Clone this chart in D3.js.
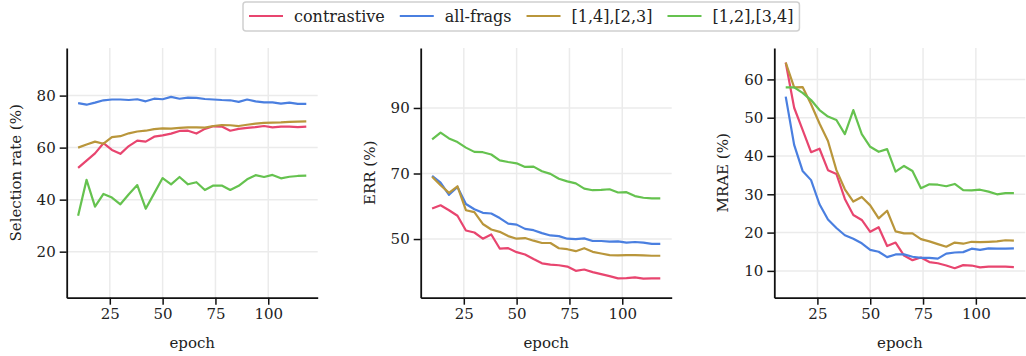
<!DOCTYPE html>
<html>
<head>
<meta charset="utf-8">
<script src="https://cdn.jsdelivr.net/npm/d3@7"></script>
<style>
  body { margin: 0; background: #fff; }
</style>
</head>
<body>
<svg id="chart" width="1026" height="356"></svg>
<script>
// epochs logged every 4 epochs
const epochs = d3.range(10, 119, 4);

const seriesNames = ["contrastive", "all-frags", "[1,4],[2,3]", "[1,2],[3,4]"];
const seriesColors = ["#e8456f", "#4a7fe0", "#b9963b", "#65c24f"];

// Selection rate (%)
const selContrastive = [52.2,55.0,57.8,61.7,59.1,57.6,60.6,62.7,62.3,64.2,64.7,65.4,66.4,66.5,65.4,67.2,68.2,68.1,66.5,67.2,67.6,67.9,68.3,67.8,68.1,68.1,67.9,68.1];
const selAllFrags = [77.1,76.5,77.3,78.2,78.5,78.5,78.3,78.6,77.8,78.8,78.6,79.5,78.8,79.2,79.1,78.7,78.5,78.3,78.2,77.6,78.5,77.8,77.4,77.4,76.9,77.3,76.8,76.8];
const sel1423 = [60.0,61.2,62.3,61.5,64.0,64.4,65.5,66.2,66.5,67.1,67.4,67.3,67.6,67.8,67.8,67.7,68.3,68.7,68.6,68.3,68.8,69.2,69.5,69.6,69.7,69.9,70.0,70.1];
const sel1234 = [33.8,47.6,37.3,42.2,40.8,38.2,42.1,45.6,36.5,42.4,48.3,45.9,48.7,45.9,46.7,43.7,45.4,45.4,43.7,45.3,47.8,49.4,48.7,49.5,48.2,48.8,49.1,49.2];

// ERR (%)
const errContrastive = [59.3,60.3,58.8,57.1,52.6,52.0,50.1,51.4,47.1,47.2,46.0,45.3,43.9,42.6,42.2,42.0,41.6,40.3,40.7,39.9,39.3,38.7,38.0,38.1,38.3,37.9,38.0,38.0];
const errAllFrags = [69.3,67.2,63.5,65.9,60.7,59.1,58.0,57.8,56.4,54.7,54.4,53.1,52.7,51.8,51.1,50.9,50.1,50.0,50.2,49.4,49.4,49.2,49.3,48.9,49.1,48.9,48.5,48.5];
const err1423 = [69.0,66.4,64.1,66.1,58.8,58.2,54.6,52.9,52.2,50.9,50.1,50.3,49.5,48.8,48.8,47.2,46.9,46.3,47.2,46.1,45.6,45.1,45.0,45.1,45.1,45.0,44.9,44.9];
const err1234 = [80.4,82.5,80.7,79.6,77.9,76.6,76.5,75.8,74.0,73.5,73.1,72.0,72.1,70.7,69.9,68.4,67.6,67.0,65.4,64.9,65.0,65.2,64.2,64.3,63.1,62.6,62.4,62.4];

// MRAE (%)
const mraeContrastive = [64.4,52.6,46.8,41.0,41.9,36.3,35.3,28.8,24.6,23.3,20.2,21.4,16.5,17.4,14.0,12.8,13.5,12.3,12.0,11.4,10.7,11.5,11.4,10.9,11.1,11.1,11.1,11.0];
const mraeAllFrags = [55.5,42.9,36.1,33.7,27.4,23.4,21.2,19.3,18.4,17.2,15.5,15.0,13.6,14.3,14.3,13.7,13.4,13.4,13.2,14.5,14.8,14.9,15.8,15.5,15.9,15.8,15.8,15.9];
const mrae1423 = [64.4,57.9,58.0,53.5,48.5,43.9,36.3,31.3,28.1,29.3,27.1,23.7,25.7,20.3,19.8,19.8,18.3,17.7,17.0,16.3,17.4,17.1,17.6,17.5,17.6,17.7,18.0,17.9];
const mrae1234 = [57.9,57.9,56.5,54.6,52.0,50.3,49.4,45.7,52.0,45.7,42.4,41.1,41.8,35.9,37.4,36.1,31.6,32.6,32.5,32.1,32.7,31.1,31.0,31.2,30.7,30.0,30.3,30.3];

const xTicks = [25, 50, 75, 100];

const panels = [
  { label: "Selection rate (%)", left: 66.7, yDomain: [2.3, 98.3], yTicks: [20, 40, 60, 80],
    series: [selContrastive, selAllFrags, sel1423, sel1234] },
  { label: "ERR (%)", left: 420.7, yDomain: [32.1, 108.3], yTicks: [50, 70, 90],
    series: [errContrastive, errAllFrags, err1423, err1234] },
  { label: "MRAE (%)", left: 774.3, yDomain: [3.0, 68.2], yTicks: [10, 20, 30, 40, 50, 60],
    series: [mraeContrastive, mraeAllFrags, mrae1423, mrae1234] }
];

const serif = '"DejaVu Serif"';
const svg = d3.select("#chart");
const plotTop = 48, plotBottom = 297.7, plotW = 251;

panels.forEach(p => {
  const g = svg.append("g").attr("transform", "translate(" + p.left + ",0)");

  const x = d3.scaleLinear().domain([4.6, 123.4]).range([0, plotW]);
  const y = d3.scaleLinear().domain(p.yDomain).range([plotBottom, plotTop]);

  // grid
  g.append("g").selectAll("line").data(xTicks).enter().append("line")
    .attr("x1", d => x(d)).attr("x2", d => x(d))
    .attr("y1", plotTop).attr("y2", plotBottom)
    .attr("stroke", "#ebebeb").attr("stroke-width", 1.5);
  g.append("g").selectAll("line").data(p.yTicks).enter().append("line")
    .attr("x1", 0).attr("x2", plotW)
    .attr("y1", d => y(d)).attr("y2", d => y(d))
    .attr("stroke", "#ebebeb").attr("stroke-width", 1.5);

  // lines
  const line = d3.line().x((d, i) => x(epochs[i])).y(d => y(d));
  p.series.forEach((s, k) => {
    g.append("path")
      .datum(s)
      .attr("d", line)
      .attr("fill", "none")
      .attr("stroke", seriesColors[k])
      .attr("stroke-width", 2.2)
      .attr("stroke-linejoin", "round");
  });

  // axes
  const xAxis = g.append("g")
    .attr("transform", "translate(0," + plotBottom + ")")
    .call(d3.axisBottom(x).tickValues(xTicks).tickSizeOuter(0).tickSizeInner(7).tickPadding(4));
  const yAxis = g.append("g")
    .call(d3.axisLeft(y).tickValues(p.yTicks).tickSizeOuter(0).tickSizeInner(7).tickPadding(4));
  [xAxis, yAxis].forEach(a => {
    a.attr("font-family", null).attr("font-size", null);
    a.select(".domain").attr("stroke", "#111").attr("stroke-width", 1.8);
    a.selectAll(".tick line").attr("stroke", "#111").attr("stroke-width", 1.5);
    a.selectAll(".tick text").style("font-family", serif).style("font-size", "15px").attr("fill", "#222");
  });

  // labels
  g.append("text")
    .attr("x", plotW / 2).attr("y", 348)
    .attr("text-anchor", "middle")
    .attr("fill", "#222")
    .style("font-family", serif)
    .style("font-size", "15px")
    .text("epoch");
  g.append("text")
    .attr("transform", "translate(-46," + ((plotTop + plotBottom) / 2) + ") rotate(-90)")
    .attr("text-anchor", "middle")
    .attr("fill", "#222")
    .style("font-family", serif)
    .style("font-size", "15px")
    .text(p.label);
});

// legend
const legX = 249;
const legend = svg.append("g");
const box = legend.append("rect")
  .attr("y", 2).attr("height", 29).attr("rx", 3)
  .attr("fill", "#fff").attr("stroke", "#d0d0d0").attr("stroke-width", 1.5);
let cx = legX;
seriesNames.forEach((name, k) => {
  const it = legend.append("g").attr("transform", "translate(" + cx + ",0)");
  it.append("line").attr("x1", 0).attr("x2", 34).attr("y1", 16).attr("y2", 16)
    .attr("stroke", seriesColors[k]).attr("stroke-width", 2.2);
  const t = it.append("text").attr("x", 45).attr("y", 21.5)
    .attr("fill", "#222")
    .style("font-family", serif)
    .style("font-size", "16px").text(name);
  cx += 45 + t.node().getComputedTextLength() + 15;
});
box.attr("x", legX - 6).attr("width", cx - 15 - legX + 12);
</script>
</body>
</html>
